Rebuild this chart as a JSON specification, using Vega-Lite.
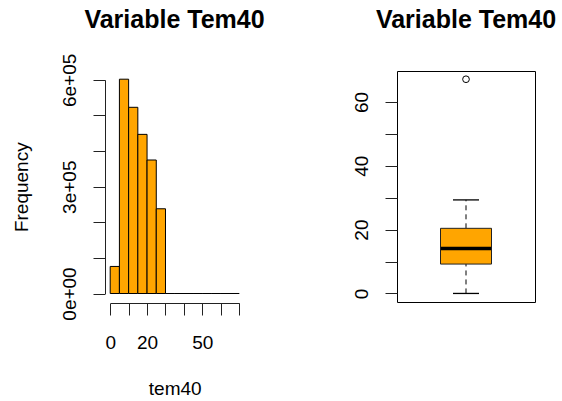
{
  "$schema": "https://vega.github.io/schema/vega-lite/v6.json",
  "autosize": {"type": "pad"},
  "padding": {"left": 11, "top": 7, "right": 0, "bottom": 5},
  "background": "white",
  "bounds": "flush",
  "spacing": 153,
  "config": {
    "font": "Liberation Sans",
    "view": {"stroke": null},
    "axis": {
      "grid": false,
      "labelFlush": false,
      "labelFontSize": 19,
      "titleFontSize": 19,
      "titleFontWeight": "normal",
      "labelColor": "black",
      "titleColor": "black",
      "domainColor": "#222",
      "tickColor": "#222",
      "tickSize": 12,
      "labelFont": "Liberation Sans",
      "titleFont": "Liberation Sans"
    }
  },
  "datasets": {
    "hist": [
      {"bin_start": 0, "bin_end": 5, "count": 76000},
      {"bin_start": 5, "bin_end": 10, "count": 602000},
      {"bin_start": 10, "bin_end": 15, "count": 523000},
      {"bin_start": 15, "bin_end": 20, "count": 447000},
      {"bin_start": 20, "bin_end": 25, "count": 375000},
      {"bin_start": 25, "bin_end": 30, "count": 238000},
      {"bin_start": 30, "bin_end": 35, "count": 0},
      {"bin_start": 35, "bin_end": 40, "count": 0},
      {"bin_start": 40, "bin_end": 45, "count": 0},
      {"bin_start": 45, "bin_end": 50, "count": 0},
      {"bin_start": 50, "bin_end": 55, "count": 0},
      {"bin_start": 55, "bin_end": 60, "count": 0},
      {"bin_start": 60, "bin_end": 65, "count": 0},
      {"bin_start": 65, "bin_end": 70, "count": 1}
    ],
    "box": [
      {"var": "tem40", "lower": 0, "q1": 9.2, "median": 14.1, "q3": 20.4, "upper": 29.3}
    ],
    "outliers": [
      {"var": "tem40", "value": 67.1}
    ]
  },
  "hconcat": [
    {
      "width": 139,
      "height": 231,
      "view": {"stroke": null},
      "title": {"text": "Variable Tem40", "fontSize": 25, "fontWeight": "bold", "color": "black", "frame": "group", "anchor": "middle", "baseline": "alphabetic", "offset": 0},
      "data": {"name": "hist"},
      "mark": {"type": "rect", "fill": "#FFA500", "stroke": "black", "strokeWidth": 1},
      "encoding": {
        "x": {
          "field": "bin_start", "type": "quantitative",
          "scale": {"domain": [0, 70], "range": [5.2, 134.2], "nice": false, "zero": false},
          "axis": {
            "title": "tem40",
            "values": [0, 10, 20, 30, 40, 50, 60, 70],
            "labelExpr": "indexof([0, 20, 50], datum.value) >= 0 ? datum.label : ''",
            "labelPadding": 18.5,
            "titlePadding": 27,
            "offset": 1,
            "labelOverlap": false
          }
        },
        "x2": {"field": "bin_end"},
        "y": {
          "field": "count", "type": "quantitative",
          "scale": {"domain": [0, 600000], "range": [222.5, 8.9], "nice": false},
          "axis": {
            "title": "Frequency",
            "values": [0, 100000, 200000, 300000, 400000, 500000, 600000],
            "labelExpr": "datum.value == 0 ? '0e+00' : datum.value == 300000 ? '3e+05' : datum.value == 600000 ? '6e+05' : ''",
            "labelAngle": -90,
            "labelPadding": 14,
            "titlePadding": 29,
            "labelOverlap": false
          }
        },
        "y2": {"datum": 0}
      }
    },
    {
      "width": 138,
      "height": 231,
      "view": {"stroke": "black", "strokeWidth": 1},
      "title": {"text": "Variable Tem40", "fontSize": 25, "fontWeight": "bold", "color": "black", "frame": "group", "anchor": "middle", "baseline": "alphabetic", "offset": 18},
      "encoding": {
        "x": {"field": "var", "type": "nominal", "axis": null},
        "y": {
          "type": "quantitative",
          "scale": {"domain": [-2.68, 69.68], "nice": false, "zero": false},
          "axis": {
            "title": null,
            "domain": false,
            "values": [0, 10, 20, 30, 40, 50, 60],
            "labelExpr": "indexof([0, 20, 40, 60], datum.value) >= 0 ? datum.label : ''",
            "labelAngle": -90,
            "labelPadding": 14,
            "labelOverlap": false
          }
        }
      },
      "layer": [
        {
          "data": {"name": "box"},
          "mark": {"type": "rule", "color": "black", "strokeWidth": 1, "strokeDash": [5, 4]},
          "encoding": {"y": {"field": "lower", "type": "quantitative"}, "y2": {"field": "q1"}}
        },
        {
          "data": {"name": "box"},
          "mark": {"type": "rule", "color": "black", "strokeWidth": 1, "strokeDash": [5, 4]},
          "encoding": {"y": {"field": "q3", "type": "quantitative"}, "y2": {"field": "upper"}}
        },
        {
          "data": {"name": "box"},
          "mark": {"type": "tick", "color": "black", "size": 26, "thickness": 1.3, "opacity": 1},
          "encoding": {"y": {"field": "lower", "type": "quantitative"}}
        },
        {
          "data": {"name": "box"},
          "mark": {"type": "tick", "color": "black", "size": 26, "thickness": 1.3, "opacity": 1},
          "encoding": {"y": {"field": "upper", "type": "quantitative"}}
        },
        {
          "data": {"name": "box"},
          "mark": {"type": "bar", "fill": "#FFA500", "stroke": "#222", "strokeWidth": 1, "size": 51},
          "encoding": {"y": {"field": "q1", "type": "quantitative"}, "y2": {"field": "q3"}}
        },
        {
          "data": {"name": "box"},
          "mark": {"type": "tick", "color": "black", "size": 50, "thickness": 3.5, "opacity": 1},
          "encoding": {"y": {"field": "median", "type": "quantitative"}}
        },
        {
          "data": {"name": "outliers"},
          "mark": {"type": "point", "shape": "circle", "filled": false, "stroke": "black", "strokeWidth": 1, "size": 45, "opacity": 1},
          "encoding": {"y": {"field": "value", "type": "quantitative"}}
        }
      ]
    }
  ]
}
